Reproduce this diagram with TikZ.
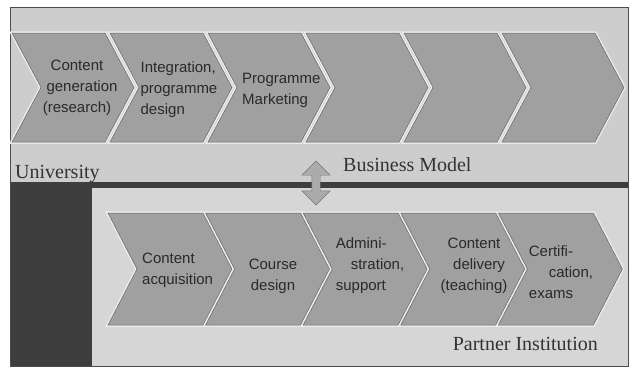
\documentclass[tikz,border=0pt]{standalone}
\usepackage{fontspec}
\setmainfont{Liberation Serif}
\newfontfamily\chevfont{Liberation Sans}
\usetikzlibrary{shapes.arrows}

\definecolor{unigray}{HTML}{CDCDCD}
\definecolor{partgray}{HTML}{D6D6D6}
\definecolor{chevgray}{HTML}{A0A0A0}
\definecolor{blockgray}{HTML}{3E3E3E}
\definecolor{inkgray}{HTML}{2A2A2A}

\tikzset{
  chevron/.style={fill=chevgray, draw=black!60, line width=0.5pt,
    preaction={draw=black!8, line width=3.5pt}},
  chevtext/.style={text=inkgray, font=\chevfont\fontsize{15}{21}\selectfont, inner sep=0pt},
  panellabel/.style={text=black!80, font=\fontsize{20}{24}\selectfont, inner sep=0pt},
  bmarrow/.style={double arrow, draw=black!55, fill=black!33, rotate=90,
    inner sep=4pt, minimum height=44pt, double arrow head extend=10pt},
}

\begin{document}
\begin{tikzpicture}[x=1pt,y=-1pt]
\useasboundingbox (0,0) rectangle (629,367);

% panels
\fill[unigray] (10,7) rectangle (628,184);
\fill[blockgray] (10,183) rectangle (92,366);
\fill[partgray] (92,188) rectangle (628,366);
\fill[blockgray] (10,182) rectangle (628,188);
\draw[black!70, line width=1pt] (10,7) rectangle (628,366);

% university chevrons
\foreach \i in {0,...,5} {
  \pgfmathsetmacro{\L}{12+98*\i}
  \filldraw[chevron] (\L,33) -- (\L+93,33) -- (\L+122,87.5) -- (\L+93,142)
    -- (\L,142) -- (\L+29,87.5) -- cycle;
}

% partner chevrons
\foreach \i in {0,...,4} {
  \pgfmathsetmacro{\L}{108+97.6*\i}
  \filldraw[chevron] (\L,213) -- (\L+95,213) -- (\L+124,269) -- (\L+95,325)
    -- (\L,325) -- (\L+29,269) -- cycle;
}

% texts of the university steps
\node[chevtext, align=center] (research) at (77,88) {Content\\ \hspace*{10pt}generation\\(research)};
\node[chevtext, align=left] (integration) at (179,90) {Integration,\\ programme\\design};
\node[chevtext, align=left, anchor=west] (marketing) at (242,90) {Programme\\Marketing};

% texts of the partner steps
\node[chevtext, align=left, anchor=west] (acquisition) at (142,270) {Content\\acquisition};
\node[chevtext, align=center] (coursedesign) at (273,276) {Course\\design};
\node[chevtext, align=left] (admin) at (370,266) {Admini-\\ \hspace*{15pt}stration,\\support};
\node[chevtext, align=center] (delivery) at (474,266) {Content\\ \hspace*{10pt}delivery\\(teaching)};
\node[chevtext, align=left] (certif) at (561,272) {Certifi-\\ \hspace*{20pt}cation,\\exams};

% labels
\node[panellabel, anchor=base west] (uni) at (15,178) {University};
\node[panellabel, anchor=base west] (busmodel) at (343,171) {Business Model};
\node[panellabel, anchor=base east] (partner) at (598,350) {Partner Institution};

% link between the two panels
\node[bmarrow] (link) at (316,183) {};
\end{tikzpicture}
\end{document}
